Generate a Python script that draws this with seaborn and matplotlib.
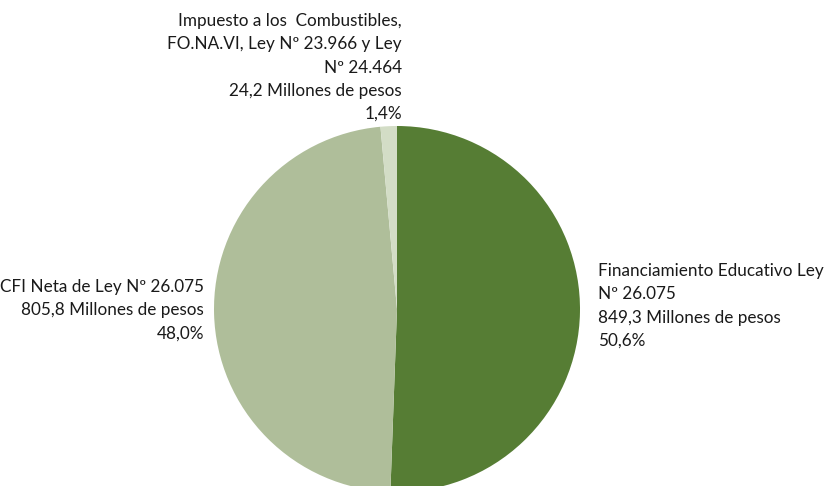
import seaborn as sns
import matplotlib.pyplot as plt

# Datos
categorias = ['Financiamiento Educativo Ley\nNº 26.075',
              'CFI Neta de Ley Nº 26.075',
              'Impuesto a los  Combustibles,\nFO.NA.VI, Ley Nº 23.966 y Ley\nNº 24.464']
millones = [849.3, 805.8, 24.2]
porcentajes = [50.6, 48.0, 1.4]
colores = ['#567d34', '#afbe9a', '#d3ddc6']

sns.set_style("white")
plt.rcParams['font.family'] = ['Lato', 'DejaVu Sans']

fig = plt.figure(figsize=(8.26, 4.86), dpi=100)
ax = fig.add_axes([0, 0, 1, 1])

ax.pie(millones, colors=colores, startangle=90, counterclock=False,
       center=(397, 177), radius=183, frame=True,
       wedgeprops=dict(linewidth=0))
ax.set_xlim(0, 826)
ax.set_ylim(0, 486)
ax.set_aspect('equal')
ax.axis('off')

def fmt(i):
    m = f"{millones[i]:.1f}".replace('.', ',')
    p = f"{porcentajes[i]:.1f}".replace('.', ',')
    return f"{categorias[i]}\n{m} Millones de pesos\n{p}%"

kw = dict(fontsize=12.3, color='#1a1a1a', linespacing=1.56)
ax.text(598, 486 - 263, fmt(0), ha='left', va='top', **kw)
ax.text(204, 486 - 279, fmt(1), ha='right', va='top', **kw)
ax.text(402, 486 - 13, fmt(2), ha='right', va='top', **kw)

plt.savefig('out.png', dpi=100)
